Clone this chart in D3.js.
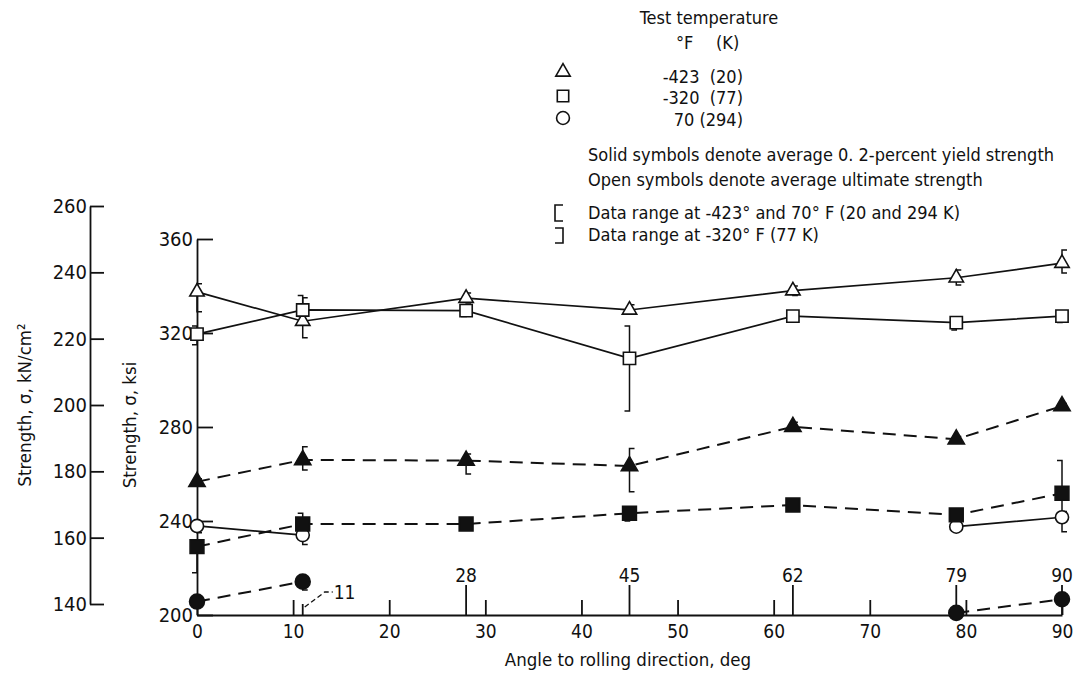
<!DOCTYPE html>
<html>
<head>
<meta charset="utf-8">
<script src="https://cdn.jsdelivr.net/npm/d3@7"></script>
<style>
  html, body { margin: 0; padding: 0; background: #fff; }
  svg { display: block; }
  .txt { font-family: "DejaVu Sans Condensed", "DejaVu Sans", sans-serif; font-stretch: condensed; fill: #111; }
  .num { font-family: "Liberation Sans Narrow", "DejaVu Sans Condensed", sans-serif; fill: #111; }
</style>
</head>
<body>
<svg id="chart" width="1077" height="673"></svg>
<script>
// ---------- data ----------
const angles = [0, 11, 28, 45, 62, 79, 90];
const ultimate423 = [337.5, 325, 334.8, 329.8, 338, 343.5, 349.7];   // open triangle
const ultimate320 = [319.5, 329.8, 329.5, 309.2, 327.2, 324.4, 327.2]; // open square
const ultimate70  = [237.9, 234, null, null, null, 237.6, 241.6];     // open circle
const yield423 = [256.7, 266, 265.7, 263.4, 280.1, 274.8, 288.9];      // filled triangle
const yield320 = [229.1, 238.7, 238.7, 243.3, 246.8, 242.6, 251.8];    // filled square
const yield70  = [205.7, 214.2, null, null, null, 200.9, 206.7];       // filled circle

// data ranges [low, high] (ksi)
const range_u423 = [[329, 341], [318, 335], [332.8, 337], [328, 332], [336, 340], [340.4, 346.8], [345.5, 355.3]];
const range_u320 = [[315, 323], [327, 336], [327, 331], [286.8, 323], [325, 329], [321.3, 326], [324.5, 329.5]];
const range_u70  = [[235, 239], [230, 236], null, null, null, [236, 239], [235.4, 244]];
const range_y423 = [[255, 258], [261.7, 271.6], [260, 268.5], [252.5, 270.9], [279, 282], [273.5, 276], [288, 290]];
const range_y320 = [[218, 232], [236, 243.3], [237, 240], [240, 245], [245, 248], [241, 244], [240, 265.7]];
const range_y70  = [[204, 207], [210.6, 215], null, null, null, [200, 202], [205, 208]];

const xTicks = [0, 10, 20, 30, 40, 50, 60, 70, 80, 90];
const markedAngles = [28, 45, 62, 79, 90];
const ksiTicks = [200, 240, 280, 320, 360];
const knTicks = [140, 160, 180, 200, 220, 240, 260];

const legendRows = [
  { sym: "triangle", label: "-423  (20)" },
  { sym: "square",   label: "-320  (77)" },
  { sym: "circle",   label: "70 (294)" }
];

// ---------- scales ----------
const svg = d3.select("#chart");
const x = d3.scaleLinear().domain([0, 90]).range([197, 1062]);
const y = d3.scaleLinear().domain([200, 360]).range([615, 239]);
const yKn = d3.scaleLinear().domain([140, 260]).range([604, 206]);

// ---------- axes ----------
const gX = svg.append("g").attr("transform", `translate(0,${y(200)})`)
  .call(d3.axisBottom(x).tickValues(xTicks).tickSize(-15).tickSizeOuter(0).tickPadding(10));
const gY = svg.append("g").attr("transform", `translate(${x(0)},0)`)
  .call(d3.axisLeft(y).tickValues(ksiTicks).tickSize(-16).tickSizeOuter(0).tickPadding(4));
const gK = svg.append("g").attr("transform", `translate(90,0)`)
  .call(d3.axisLeft(yKn).tickValues(knTicks).tickSize(-14).tickSizeOuter(0).tickPadding(3));

[gX, gY, gK].forEach(g => {
  g.selectAll("path.domain").attr("stroke", "#111").attr("stroke-width", 1.8);
  g.selectAll(".tick line").attr("stroke", "#111").attr("stroke-width", 1.8);
  g.selectAll(".tick text").attr("class", "num").attr("font-size", 20).attr("fill", "#111");
});
gX.selectAll(".tick text").attr("font-size", 19);

// tall marked-angle ticks with labels
const marks = svg.append("g");
marks.selectAll("line").data(markedAngles).join("line")
  .attr("x1", d => x(d)).attr("x2", d => x(d))
  .attr("y1", y(200)).attr("y2", y(200) - 30)
  .attr("stroke", "#111").attr("stroke-width", 1.8);
marks.selectAll("text").data(markedAngles).join("text")
  .attr("class", "num").attr("font-size", 19)
  .attr("x", d => x(d)).attr("y", y(200) - 33)
  .attr("text-anchor", "middle").text(d => d);
// 11 marker with leader
marks.append("line").attr("x1", x(11)).attr("x2", x(11))
  .attr("y1", y(200)).attr("y2", y(200) - 11).attr("stroke", "#111").attr("stroke-width", 1.8);
marks.append("path")
  .attr("d", `M${x(11) + 2},${y(200) - 8} L${x(11) + 22},${y(200) - 23} L${x(11) + 30},${y(200) - 23}`)
  .attr("fill", "none").attr("stroke", "#111").attr("stroke-width", 1.3).attr("stroke-dasharray", "5,3");
marks.append("text").attr("class", "num").attr("font-size", 19)
  .attr("x", x(11) + 31).attr("y", y(200) - 16).text("11");

// axis titles
svg.append("text").attr("class", "txt").attr("font-size", 18.5)
  .attr("x", 628).attr("y", 666).attr("text-anchor", "middle")
  .text("Angle to rolling direction, deg");
svg.append("text").attr("class", "txt").attr("font-size", 18.5)
  .attr("transform", "translate(31,405) rotate(-90)").attr("text-anchor", "middle")
  .text("Strength, σ, kN/cm²");
svg.append("text").attr("class", "txt").attr("font-size", 18.5)
  .attr("transform", "translate(136,425) rotate(-90)").attr("text-anchor", "middle")
  .text("Strength, σ, ksi");

// ---------- series ----------
function series(vals) { return angles.map((a, i) => ({ a, v: vals[i] })); }
const line = d3.line().defined(d => d.v != null).x(d => x(d.a)).y(d => y(d.v));

const plot = svg.append("g");
function drawLine(vals, dashed) {
  plot.append("path").datum(series(vals))
    .attr("d", line).attr("fill", "none").attr("stroke", "#111")
    .attr("stroke-width", dashed ? 2 : 1.7)
    .attr("stroke-dasharray", dashed ? "13,8" : null);
}
drawLine(ultimate423, false);
drawLine(ultimate320, false);
drawLine(ultimate70, false);
drawLine(yield423, true);
drawLine(yield320, true);
drawLine(yield70, true);

function drawRanges(ranges, side) {
  const c = 5 * side;
  const data = angles.map((a, i) => ({ a, r: ranges[i] })).filter(d => d.r);
  plot.append("g").selectAll("path").data(data).join("path")
    .attr("d", d => `M${x(d.a) + c},${y(d.r[1])} H${x(d.a)} V${y(d.r[0])} H${x(d.a) + c}`)
    .attr("fill", "none").attr("stroke", "#111").attr("stroke-width", 1.5);
}
drawRanges(range_u423, 1);
drawRanges(range_u70, 1);
drawRanges(range_y423, 1);
drawRanges(range_y70, 1);
drawRanges(range_u320, -1);
drawRanges(range_y320, -1);

const symType = { triangle: d3.symbolTriangle, square: d3.symbolSquare, circle: d3.symbolCircle };
function drawMarkers(vals, sym, filled, size) {
  const gen = d3.symbol().type(symType[sym]).size(size);
  plot.append("g").selectAll("path").data(series(vals).filter(d => d.v != null)).join("path")
    .attr("d", gen)
    .attr("transform", d => `translate(${x(d.a)},${y(d.v)})`)
    .attr("fill", filled ? "#111" : "#fff")
    .attr("stroke", "#111").attr("stroke-width", 1.6);
}
drawMarkers(ultimate423, "triangle", false, 90);
drawMarkers(ultimate320, "square", false, 150);
drawMarkers(ultimate70, "circle", false, 135);
drawMarkers(yield423, "triangle", true, 115);
drawMarkers(yield320, "square", true, 190);
drawMarkers(yield70, "circle", true, 175);

// ---------- legend ----------
const lg = svg.append("g");
lg.append("text").attr("class", "txt").attr("font-size", 18)
  .attr("x", 709).attr("y", 24).attr("text-anchor", "middle").text("Test temperature");
lg.append("text").attr("class", "txt").attr("font-size", 18)
  .attr("x", 676).attr("y", 49).text("°F");
lg.append("text").attr("class", "txt").attr("font-size", 18)
  .attr("x", 716).attr("y", 49).text("(K)");
legendRows.forEach((r, i) => {
  const cy = [72, 96, 118][i];
  const gen = d3.symbol().type(symType[r.sym]).size(r.sym === "triangle" ? 90 : 130);
  lg.append("path").attr("d", gen).attr("transform", `translate(563,${cy})`)
    .attr("fill", "#fff").attr("stroke", "#111").attr("stroke-width", 1.6);
  lg.append("text").attr("class", "txt").attr("font-size", 18)
    .attr("x", 743).attr("y", cy + 7 + (i === 0 ? 4 : 1)).attr("text-anchor", "end")
    .style("white-space", "pre").text(r.label);
});
lg.append("text").attr("class", "txt").attr("font-size", 18)
  .attr("x", 588).attr("y", 161).text("Solid symbols denote average 0. 2-percent yield strength");
lg.append("text").attr("class", "txt").attr("font-size", 18)
  .attr("x", 588).attr("y", 186).text("Open symbols denote average ultimate strength");
lg.append("path").attr("d", "M563,205 H555 V221 H563").attr("fill", "none").attr("stroke", "#111").attr("stroke-width", 1.6);
lg.append("text").attr("class", "txt").attr("font-size", 18)
  .attr("x", 588).attr("y", 219).text("Data range at -423° and 70° F (20 and 294 K)");
lg.append("path").attr("d", "M555,228 H563 V243 H555").attr("fill", "none").attr("stroke", "#111").attr("stroke-width", 1.6);
lg.append("text").attr("class", "txt").attr("font-size", 18)
  .attr("x", 588).attr("y", 241).text("Data range at -320° F (77 K)");
</script>
</body>
</html>
